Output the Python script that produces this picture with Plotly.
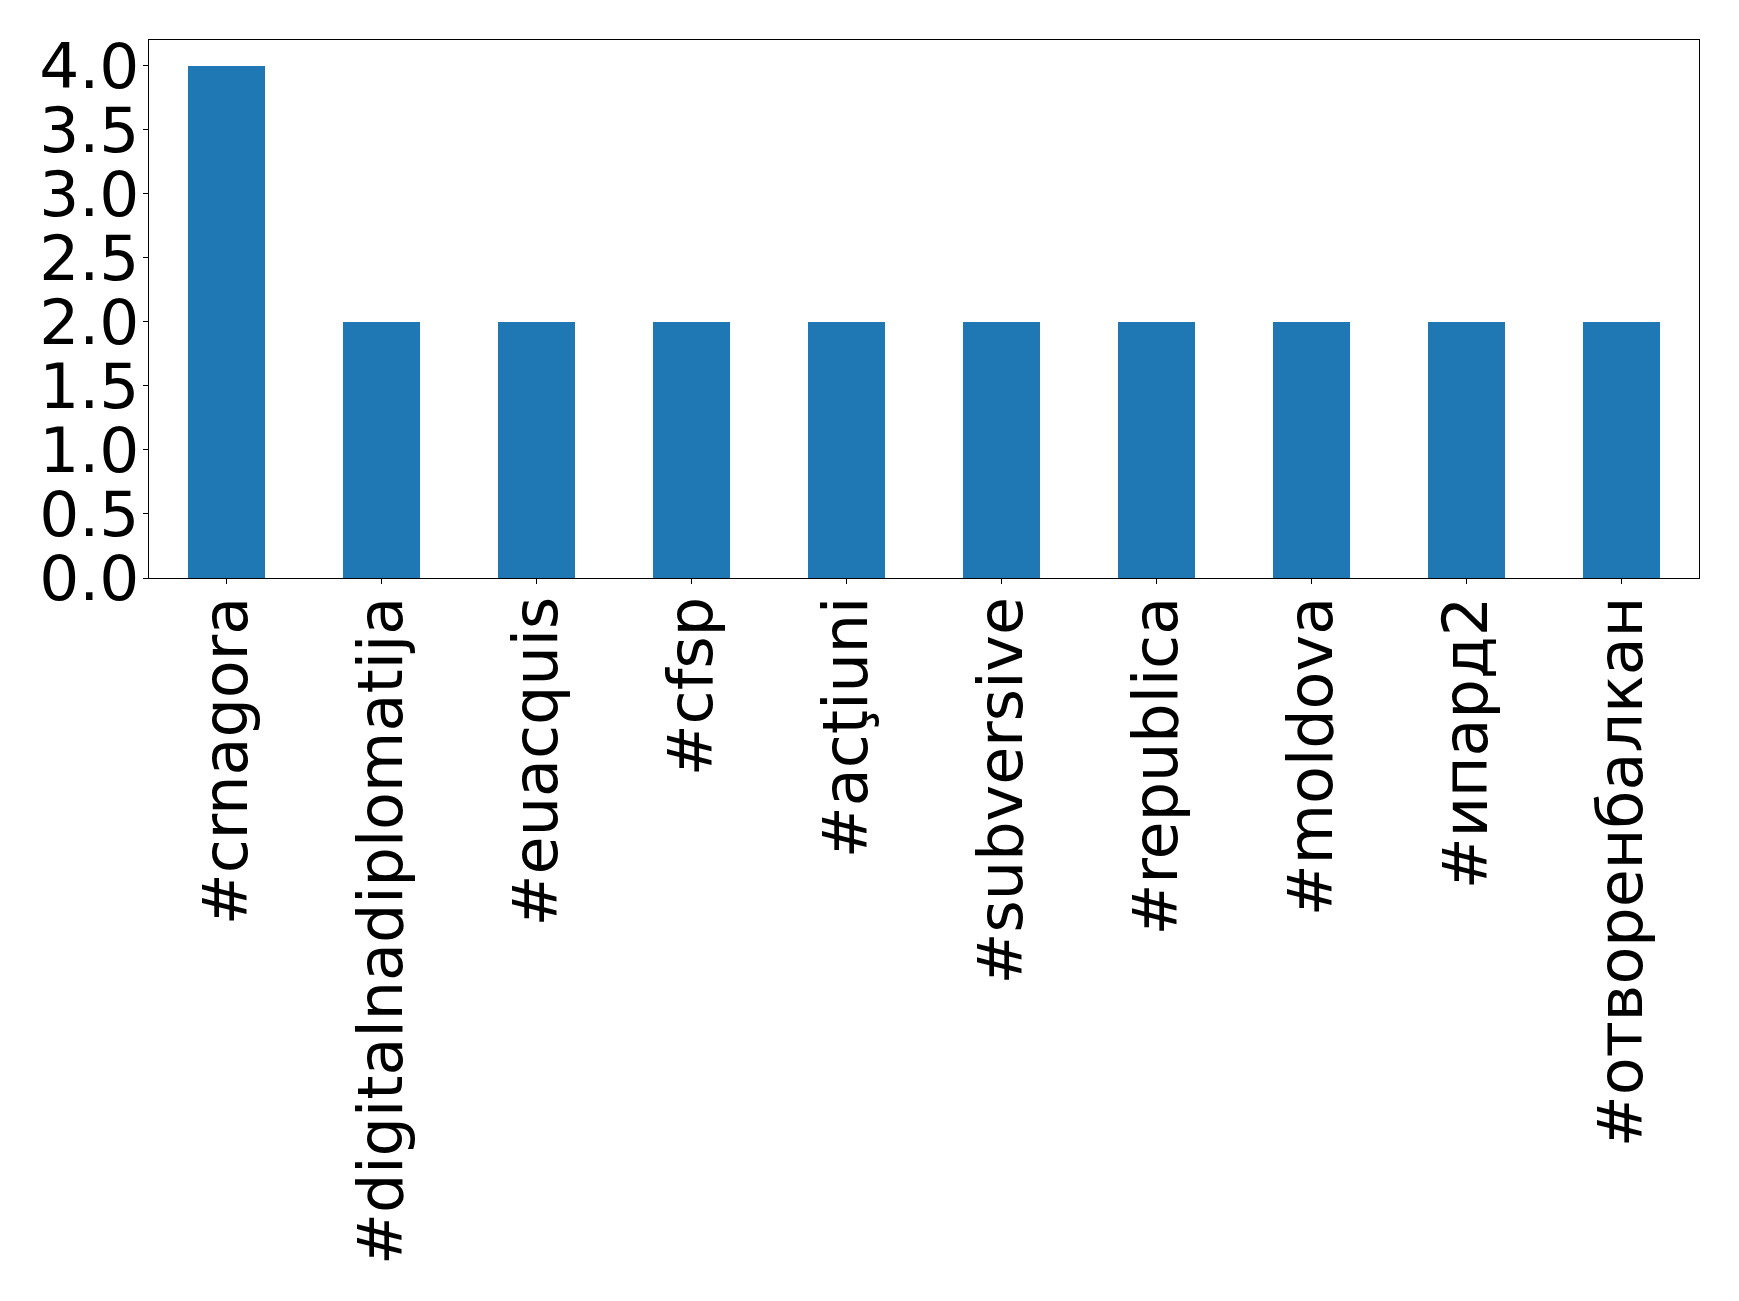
import plotly.graph_objects as go

categories = ["#crnagora", "#digitalnadiplomatija", "#euacquis", "#cfsp", "#acţiuni",
              "#subversive", "#republica", "#moldova", "#ипард2", "#отворенбалкан"]
values = [4, 2, 2, 2, 2, 2, 2, 2, 2, 2]
y_ticks = [0.0, 0.5, 1.0, 1.5, 2.0, 2.5, 3.0, 3.5, 4.0]
y_tick_labels = ["0.0", "0.5", "1.0", "1.5", "2.0", "2.5", "3.0", "3.5", "4.0"]

fig = go.Figure(go.Bar(x=list(range(len(categories))), y=values, width=0.5,
                       marker=dict(color="#1f77b4", line=dict(width=0))))

fig.update_layout(
    width=1723, height=1285,
    margin=dict(l=141, r=32, t=32, b=715, pad=0),
    plot_bgcolor="white", paper_bgcolor="white",
    font=dict(family="DejaVu Sans", size=63, color="black"),
    showlegend=False,
    bargap=0,
)
fig.update_xaxes(
    range=[-0.5, len(categories) - 0.5],
    tickmode="array", tickvals=list(range(len(categories))), ticktext=categories,
    tickangle=-90, ticks="outside", ticklen=5, tickwidth=1, tickcolor="black",
    showline=True, linecolor="black", linewidth=1, mirror=True,
    showgrid=False, zeroline=False, tickfont=dict(size=62), automargin=False,
    ticklabelstandoff=-12,
)
fig.update_yaxes(
    range=[0, 4.2],
    tickmode="array", tickvals=y_ticks, ticktext=y_tick_labels,
    ticks="outside", ticklen=5, tickwidth=1, tickcolor="black",
    showline=True, linecolor="black", linewidth=1, mirror=True,
    showgrid=False, zeroline=False, tickfont=dict(size=63), automargin=False,
    ticklabelstandoff=-9,
)
fig.write_html("out.html")
